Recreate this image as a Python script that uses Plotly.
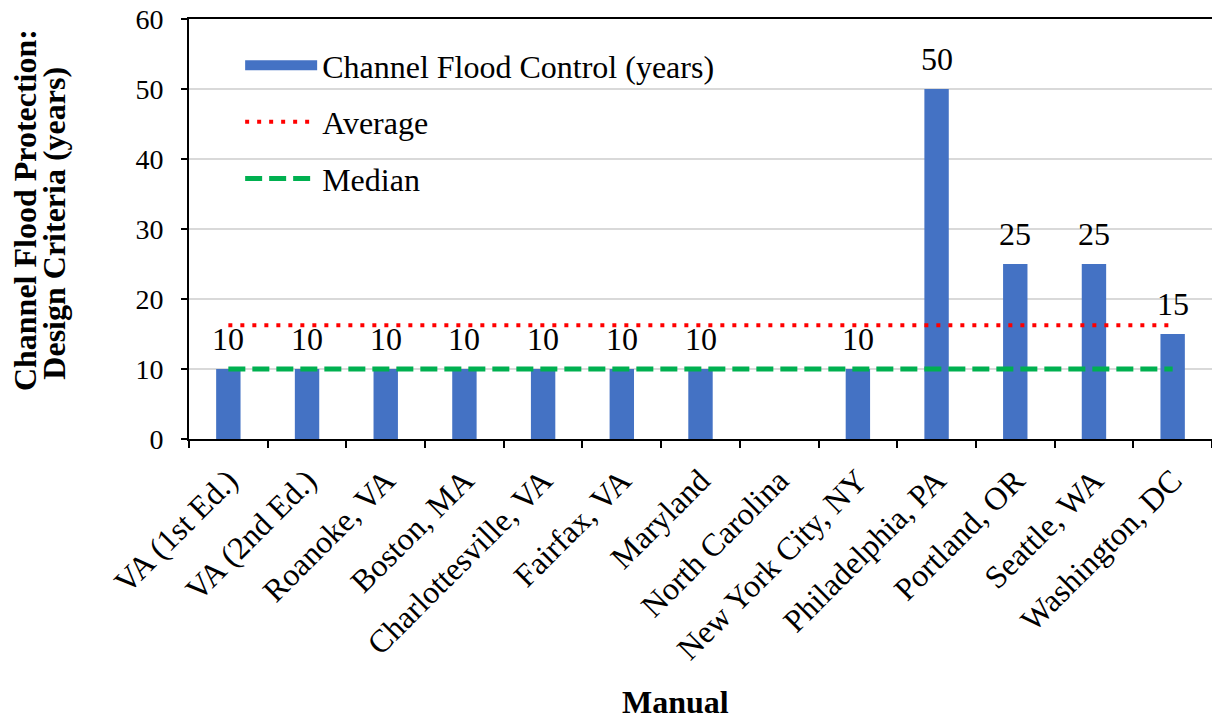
import plotly.graph_objects as go

categories = ["VA (1st Ed.)", "VA (2nd Ed.)", "Roanoke, VA", "Boston, MA",
              "Charlottesville, VA", "Fairfax, VA", "Maryland", "North Carolina",
              "New York City, NY", "Philadelphia, PA", "Portland, OR",
              "Seattle, WA", "Washington, DC"]
flood_control = [10, 10, 10, 10, 10, 10, 10, None, 10, 50, 25, 25, 15]
average_value = 16.25
median_value = 10
average_line = [average_value] * len(categories)
median_line = [median_value] * len(categories)
y_ticks = [0, 10, 20, 30, 40, 50, 60]

FONT = "Liberation Serif, Times New Roman, serif"
BAR_COLOR = "#4472C4"

fig = go.Figure()

fig.add_trace(go.Bar(
    x=categories, y=flood_control, name="Channel Flood Control (years)",
    marker=dict(color=BAR_COLOR, line=dict(width=0)),
    showlegend=False,
))
# legend swatch for the bar series (drawn as a wide legend symbol)
fig.add_trace(go.Scatter(
    x=[None], y=[None], mode="lines", name="Channel Flood Control (years)",
    line=dict(color=BAR_COLOR, width=16), legendgroup="a",
))
fig.add_trace(go.Scatter(
    x=categories, y=average_line, mode="lines", name="Average",
    line=dict(color="#FF0000", width=4, dash="4px,8px"), legendgroup="b",
))
fig.add_trace(go.Scatter(
    x=categories, y=median_line, mode="lines", name="Median",
    line=dict(color="#00B050", width=5, dash="17px,7px"), legendgroup="c",
))

for c, v in zip(categories, flood_control):
    if v is None:
        continue
    fig.add_annotation(x=c, y=v, text=str(v), showarrow=False,
                       yanchor="bottom", yshift=10,
                       font=dict(family=FONT, size=32, color="black"))

# axis titles
fig.add_annotation(xref="paper", yref="paper", x=0.476, y=-0.625,
                   text="<b>Manual</b>", showarrow=False,
                   xanchor="center", yanchor="middle",
                   font=dict(family=FONT, size=32, color="black"))
fig.add_annotation(xref="paper", yref="paper", x=-0.1603, y=0.545,
                   text="<b>Channel Flood Protection:</b>", showarrow=False,
                   textangle=-90, xanchor="center", yanchor="middle",
                   font=dict(family=FONT, size=32, color="black"))
fig.add_annotation(xref="paper", yref="paper", x=-0.1320, y=0.515,
                   text="<b>Design Criteria (years)</b>", showarrow=False,
                   textangle=-90, xanchor="center", yanchor="middle",
                   font=dict(family=FONT, size=32, color="black"))

fig.update_layout(
    width=1212, height=719,
    margin=dict(l=189, r=0, t=19, b=280, autoexpand=False),
    paper_bgcolor="white", plot_bgcolor="white",
    bargap=0.69,
    font=dict(family=FONT, size=30, color="black"),
    legend=dict(x=0.05, y=0.955, xanchor="left", yanchor="top",
                bgcolor="rgba(0,0,0,0)", traceorder="grouped",
                tracegroupgap=12, itemwidth=72,
                font=dict(family=FONT, size=32, color="black")),
    xaxis=dict(
        type="category", range=[-0.5, 12.5],
        tickangle=-45, tickson="boundaries",
        ticks="outside", ticklen=7, tickwidth=2, tickcolor="black",
        showline=True, linecolor="black", linewidth=2, mirror=True,
        showgrid=False, automargin=False, ticklabelstandoff=8,
        tickfont=dict(family=FONT, size=32, color="black"),
    ),
    yaxis=dict(
        range=[0, 60], tickvals=y_ticks, ticktext=[str(t) for t in y_ticks],
        ticks="outside", ticklen=6, tickwidth=2, tickcolor="black",
        showline=True, linecolor="black", linewidth=2,
        showgrid=True, gridcolor="#D9D9D9", gridwidth=1.5,
        zeroline=False, automargin=False, ticklabelstandoff=12,
        tickfont=dict(family=FONT, size=28, color="black"),
    ),
)

fig.write_html("out.html")
